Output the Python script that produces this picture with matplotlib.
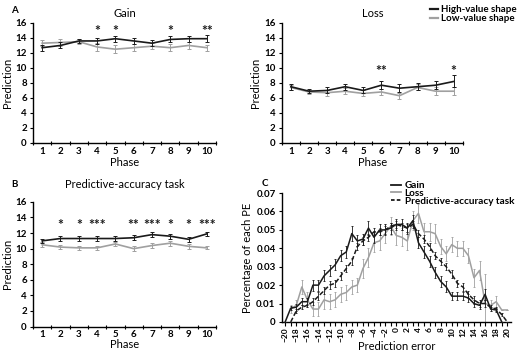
import numpy as np
import matplotlib
matplotlib.use("Agg")
import matplotlib.pyplot as plt
from matplotlib.lines import Line2D

plt.rcParams['font.family'] = ['Lato', 'DejaVu Sans']

phases = list(range(1, 11))

# Panel A: Gain
gain_high = [12.7, 13.0, 13.6, 13.6, 13.9, 13.6, 13.3, 13.8, 13.9, 13.9]
gain_high_err = [0.4, 0.4, 0.3, 0.4, 0.4, 0.4, 0.4, 0.4, 0.4, 0.5]
gain_low = [13.3, 13.4, 13.5, 12.8, 12.5, 12.7, 12.9, 12.7, 13.0, 12.7]
gain_low_err = [0.4, 0.5, 0.3, 0.5, 0.5, 0.5, 0.4, 0.5, 0.5, 0.4]
gain_sig = ['', '', '', '*', '*', '', '', '*', '', '**']

# Panel Loss
loss_high = [7.5, 6.9, 7.0, 7.5, 7.0, 7.7, 7.3, 7.5, 7.7, 8.2]
loss_high_err = [0.4, 0.3, 0.4, 0.4, 0.4, 0.5, 0.5, 0.5, 0.5, 0.8]
loss_low = [7.4, 6.8, 6.7, 6.9, 6.6, 6.8, 6.3, 7.4, 6.9, 6.9]
loss_low_err = [0.3, 0.3, 0.4, 0.4, 0.4, 0.4, 0.4, 0.4, 0.5, 0.5]
loss_sig = ['', '', '', '', '', '**', '', '', '', '*']

# Panel B: Predictive-accuracy task
pa_high = [11.0, 11.3, 11.3, 11.3, 11.3, 11.4, 11.8, 11.6, 11.2, 11.9]
pa_high_err = [0.3, 0.3, 0.3, 0.3, 0.3, 0.3, 0.3, 0.3, 0.3, 0.3]
pa_low = [10.5, 10.2, 10.1, 10.1, 10.6, 10.0, 10.4, 10.7, 10.3, 10.1]
pa_low_err = [0.3, 0.3, 0.3, 0.3, 0.3, 0.3, 0.3, 0.3, 0.3, 0.2]
pa_sig = ['', '*', '*', '***', '', '**', '***', '*', '*', '***']

# Panel C: distribution of prediction errors
pe = list(range(-20, 21))
pe_gain = [0.0, 0.0075, 0.008, 0.011, 0.011, 0.020, 0.020, 0.025, 0.028, 0.031,
           0.036, 0.038, 0.048, 0.044, 0.045, 0.051, 0.046, 0.050, 0.050, 0.051,
           0.053, 0.053, 0.051, 0.055, 0.043, 0.038, 0.033, 0.027, 0.022, 0.019,
           0.014, 0.014, 0.014, 0.013, 0.010, 0.009, 0.015, 0.007, 0.0065, 0.0,
           np.nan]
pe_gain_err = [0.0, 0.001, 0.002, 0.002, 0.002, 0.003, 0.003, 0.003, 0.003, 0.003,
               0.003, 0.003, 0.004, 0.003, 0.003, 0.004, 0.003, 0.003, 0.003, 0.003,
               0.003, 0.003, 0.003, 0.003, 0.003, 0.003, 0.003, 0.003, 0.003, 0.003,
               0.002, 0.002, 0.002, 0.002, 0.002, 0.002, 0.003, 0.001, 0.001, 0.0,
               np.nan]
pe_loss = [np.nan, 0.007, 0.009, 0.019, 0.012, 0.007, 0.007, 0.012, 0.011, 0.012,
           0.015, 0.016, 0.019, 0.020, 0.029, 0.035, 0.043, 0.044, 0.048, 0.052,
           0.047, 0.046, 0.044, 0.055, 0.059, 0.049, 0.049, 0.048, 0.041, 0.037,
           0.042, 0.040, 0.040, 0.036, 0.024, 0.028, 0.010, 0.009, 0.011, 0.0065,
           0.0065]
pe_loss_err = [np.nan, 0.002, 0.003, 0.004, 0.004, 0.004, 0.004, 0.005, 0.004, 0.004,
               0.004, 0.004, 0.004, 0.004, 0.005, 0.005, 0.005, 0.005, 0.005, 0.005,
               0.005, 0.005, 0.005, 0.005, 0.005, 0.005, 0.005, 0.005, 0.004, 0.004,
               0.004, 0.004, 0.004, 0.004, 0.005, 0.005, 0.016, 0.003, 0.003, 0.0,
               0.0]
pe_pa = [np.nan, 0.0, 0.006, 0.008, 0.009, 0.011, 0.014, 0.017, 0.020, 0.021,
         0.025, 0.029, 0.033, 0.041, 0.044, 0.046, 0.049, 0.049, 0.050, 0.052,
         0.053, 0.052, 0.051, 0.053, 0.048, 0.045, 0.041, 0.036, 0.033, 0.030,
         0.026, 0.021, 0.019, 0.015, 0.012, 0.010, 0.010, 0.008, 0.007, 0.004,
         0.0]
pe_pa_err = [np.nan, 0.0, 0.001, 0.001, 0.001, 0.002, 0.002, 0.002, 0.002, 0.002,
             0.002, 0.002, 0.002, 0.002, 0.002, 0.002, 0.002, 0.002, 0.002, 0.002,
             0.002, 0.002, 0.002, 0.002, 0.002, 0.002, 0.002, 0.002, 0.002, 0.002,
             0.002, 0.002, 0.002, 0.002, 0.002, 0.002, 0.002, 0.001, 0.001, 0.001,
             0.0]

BLACK = '#1a1a1a'
GRAY = '#a0a0a0'
TICK_FS = 7
LABEL_FS = 8
DASH = (0, (3, 1.5))

fig = plt.figure(figsize=(5.2, 3.53), dpi=100)

def style_axes(ax):
    for s in ['top', 'right']:
        ax.spines[s].set_visible(False)
    for s in ['left', 'bottom']:
        ax.spines[s].set_linewidth(1.0)
    for lbl in ax.get_xticklabels() + ax.get_yticklabels():
        lbl.set_fontweight('bold')

def phase_panel(rect, high, high_err, low, low_err, sig, title, sig_y, tpad, xpad, tickpad):
    ax = fig.add_axes(rect)
    ax.errorbar(phases, low, yerr=low_err, color=GRAY, lw=1.2, capsize=1.3,
                elinewidth=0.7, capthick=0.7, zorder=2)
    ax.errorbar(phases, high, yerr=high_err, color=BLACK, lw=1.2, capsize=1.3,
                elinewidth=0.7, capthick=0.7, zorder=3)
    for p, s in zip(phases, sig):
        if s:
            ax.text(p, sig_y, s, ha='center', va='center', fontsize=10,
                    fontweight='bold', color=BLACK)
    ax.set_xlim(0.5, 10.5)
    ax.set_ylim(0, 16)
    ax.set_yticks(range(0, 17, 2))
    ax.set_xticks(phases)
    ax.set_xticks(np.arange(0.5, 11, 1), minor=True)
    ax.tick_params(axis='x', which='major', length=0, pad=tickpad, labelsize=TICK_FS)
    ax.tick_params(axis='x', which='minor', length=3, width=0.8, direction='inout')
    ax.tick_params(axis='y', length=2.5, width=0.8, pad=2, labelsize=TICK_FS)
    ax.set_xlabel('Phase', fontsize=LABEL_FS, labelpad=xpad)
    ax.set_ylabel('Prediction', fontsize=LABEL_FS, labelpad=2)
    ax.set_title(title, fontsize=LABEL_FS, pad=tpad)
    style_axes(ax)
    return ax

axA = phase_panel([0.0635, 0.595, 0.352, 0.34], gain_high, gain_high_err,
                  gain_low, gain_low_err, gain_sig, 'Gain', 14.9, 4, 0.5, 3)
axL = phase_panel([0.542, 0.595, 0.348, 0.34], loss_high, loss_high_err,
                  loss_low, loss_low_err, loss_sig, 'Loss', 9.6, 4, 0.5, 3)
axB = phase_panel([0.0635, 0.075, 0.352, 0.353], pa_high, pa_high_err,
                  pa_low, pa_low_err, pa_sig, 'Predictive-accuracy task', 13.1, 10, 0, 2.5)

legend_handles = [Line2D([], [], color=BLACK, lw=1.6),
                  Line2D([], [], color=GRAY, lw=1.6)]
axL.legend(legend_handles, ['High-value shape', 'Low-value shape'],
           loc='upper left', bbox_to_anchor=(0.826, 0.985),
           bbox_transform=fig.transFigure, frameon=False, handlelength=0.9,
           handletextpad=0.3, labelspacing=0.0, borderpad=0, borderaxespad=0,
           prop={'weight': 'bold', 'size': 7})

# Panel C
axC = fig.add_axes([0.542, 0.088, 0.44, 0.365])
axC.errorbar(pe, pe_loss, yerr=pe_loss_err, color=GRAY, lw=1.1, capsize=1.0,
             elinewidth=0.6, capthick=0.6, zorder=2)
axC.errorbar(pe, pe_pa, yerr=pe_pa_err, color=BLACK, lw=1.1, ls=DASH, capsize=1.0,
             elinewidth=0.6, capthick=0.6, zorder=3)
axC.errorbar(pe, pe_gain, yerr=pe_gain_err, color=BLACK, lw=1.1, capsize=1.0,
             elinewidth=0.6, capthick=0.6, zorder=4)
axC.set_xlim(-20.6, 20.6)
axC.set_ylim(0, 0.07)
axC.set_yticks(np.arange(0, 0.071, 0.01))
axC.set_yticklabels(['0', '0.01', '0.02', '0.03', '0.04', '0.05', '0.06', '0.07'])
axC.set_xticks(range(-20, 21, 2))
axC.set_xticks(range(-20, 21), minor=True)
axC.tick_params(axis='x', which='major', length=3, width=0.8, labelsize=6,
                labelrotation=90, pad=1)
axC.tick_params(axis='x', which='minor', length=3, width=0.8)
axC.tick_params(axis='y', length=2.5, width=0.8, pad=2, labelsize=TICK_FS)
axC.set_xlabel('Prediction error', fontsize=LABEL_FS, labelpad=-0.5)
axC.set_ylabel('Percentage of each PE', fontsize=LABEL_FS, labelpad=2)
style_axes(axC)
c_handles = [Line2D([], [], color=BLACK, lw=1.3),
             Line2D([], [], color=GRAY, lw=1.3),
             Line2D([], [], color=BLACK, lw=1.3, ls=(0, (2, 1.2)))]
axC.legend(c_handles, ['Gain', 'Loss', 'Predictive-accuracy task'],
           loc='upper left', bbox_to_anchor=(0.752, 0.487),
           bbox_transform=fig.transFigure, frameon=False, handlelength=1.0,
           handletextpad=0.35, labelspacing=-0.12, borderpad=0, borderaxespad=0,
           prop={'weight': 'bold', 'size': 7.2})

fig.text(0.022, 0.963, 'A', fontsize=7, fontweight='bold')
fig.text(0.022, 0.47, 'B', fontsize=7, fontweight='bold')
fig.text(0.503, 0.472, 'C', fontsize=7, fontweight='bold')

fig.savefig('out.png', dpi=100)
